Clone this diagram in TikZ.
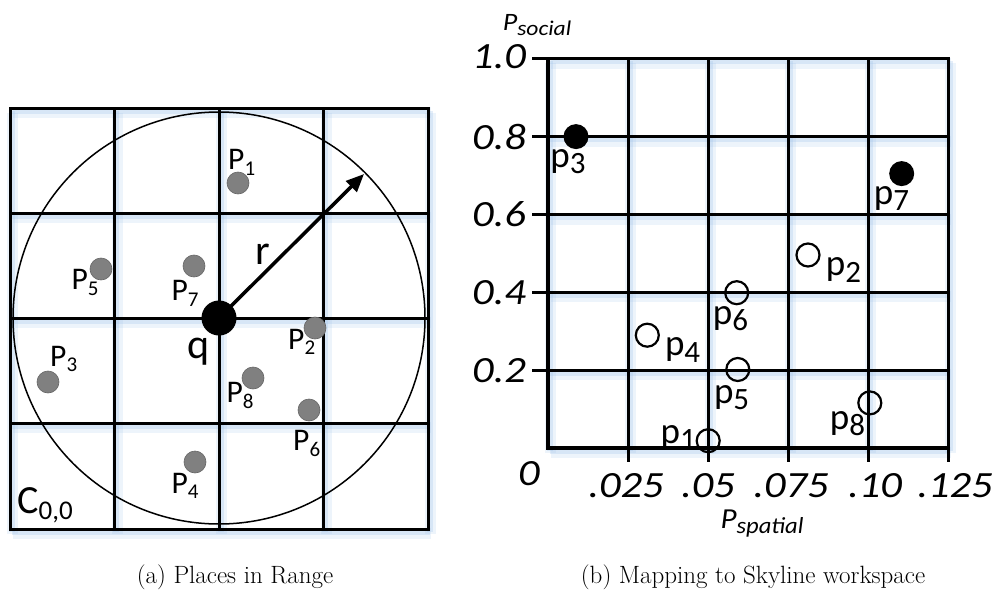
\documentclass[tikz,border=0pt]{standalone}
\usepackage{fontspec}
\newfontfamily\carl{Carlito}
\usetikzlibrary{arrows.meta}
\newcommand\Psb[1]{P\raisebox{-5.5pt}{\fontsize{21}{21}\selectfont #1}}
\newcommand\psb[1]{p\raisebox{-6.5pt}{\fontsize{31}{31}\selectfont #1}}
\newcommand\axsb[4]{\scalebox{#4}[1]{#1\raisebox{-5pt}{\fontsize{#3}{#3}\selectfont #2}}}
\newcommand\nm[1]{\scalebox{1.15}[1]{#1}}
\definecolor{glowc}{rgb}{0.62,0.76,0.91}
\definecolor{dotgray}{gray}{0.5}
\begin{document}
\begin{tikzpicture}[x=1pt,y=-1pt,
  gl/.style={line width=3pt},
  axl/.style={line width=4.5pt, line join=miter},
  glwa/.style={line width=11pt, glowc, opacity=0.18},
  glwb/.style={line width=6pt, glowc, opacity=0.28},
  Plab/.style={inner sep=0pt, font=\carl\fontsize{31.5}{34}\selectfont},
  plab/.style={inner sep=0pt, font=\carl\fontsize{37}{40}\selectfont},
  num/.style={inner sep=0pt, font=\carl\itshape\fontsize{37}{40}\selectfont},
  axlab/.style={inner sep=0pt, font=\carl\itshape},
  gdot/.style={circle, fill=dotgray, draw=black!60, line width=0.6pt, minimum size=22pt, inner sep=0pt},
  hdot/.style={circle, draw=black, line width=2.2pt, minimum size=23pt, inner sep=0pt},
  fdot/.style={circle, fill=black, minimum size=25pt, inner sep=0pt},
  capt/.style={inner sep=0pt, font=\fontsize{25}{29}\selectfont}
 ]
\useasboundingbox (0,0) rectangle (999,602);
% ---------- glow ----------
\begin{scope}[shift={(2.5,4.5)}]
  \foreach \x in {10,114.5,219,323.5,428} \draw[glwa] (\x,108) -- (\x,529);
  \foreach \y in {108,213,318,423,529} \draw[glwa] (10,\y) -- (428,\y);
  \foreach \x in {548,628,708,788,868,948} \draw[glwa] (\x,59) -- (\x,448);
  \foreach \y in {59,136.8,214.6,292.4,370.2,448} \draw[glwa] (548,\y) -- (948,\y);
\end{scope}
\begin{scope}[shift={(1.5,2.5)}]
  \foreach \x in {10,114.5,219,323.5,428} \draw[glwb] (\x,108) -- (\x,529);
  \foreach \y in {108,213,318,423,529} \draw[glwb] (10,\y) -- (428,\y);
  \foreach \x in {548,628,708,788,868,948} \draw[glwb] (\x,59) -- (\x,448);
  \foreach \y in {59,136.8,214.6,292.4,370.2,448} \draw[glwb] (548,\y) -- (948,\y);
\end{scope}
% ---------- left grid ----------
\foreach \x in {114.5,219,323.5} \draw[gl] (\x,108) -- (\x,529);
\foreach \y in {213,318,423} \draw[gl] (10,\y) -- (428,\y);
\draw[gl] (10,108) rectangle (428,529);
\draw[line width=1.5pt] (219,318) circle[radius=206pt];
\node[circle, fill=black, minimum size=35pt, inner sep=0pt] (q) at (219,318) {};
\coordinate (rtip) at (364,174);
\draw[line width=3.5pt, -{Triangle[length=18pt,width=15pt]}] (q.center) -- (rtip);
% gray dots
\node[gdot] (d1) at (238,183) {};
\node[gdot] (d5) at (101,269) {};
\node[gdot] (d7) at (194,266) {};
\node[gdot] (d2) at (315,328) {};
\node[gdot] (d3) at (48,382) {};
\node[gdot] (d8) at (253,378) {};
\node[gdot] (d6) at (309,410) {};
\node[gdot] (d4) at (195,462) {};
% labels
\node[Plab] (l1) at (241.7,162.3) {\Psb{1}};
\node[Plab] (l5) at (85,282.3) {\Psb{5}};
\node[Plab] (l7) at (185,293.3) {\Psb{7}};
\node[Plab] (l2) at (301.7,341.7) {\Psb{2}};
\node[Plab] (l3) at (63.7,359) {\Psb{3}};
\node[Plab] (l8) at (240,395.7) {\Psb{8}};
\node[Plab] (l6) at (306.7,443.3) {\Psb{6}};
\node[Plab] (l4) at (185,485.7) {\Psb{4}};
\node[inner sep=0pt, font=\carl\fontsize{42}{46}\selectfont] (lq) at (199,351.7) {q};
\node[inner sep=0pt, font=\carl\fontsize{42}{46}\selectfont] (lr) at (262.5,254) {r};
\node[inner sep=0pt, font=\carl\fontsize{40}{44}\selectfont] (lc) at (45,505) {C\raisebox{-6pt}{\fontsize{27}{27}\selectfont 0,0}};
% ---------- right grid ----------
\foreach \x in {628,708,788,868} \draw[gl] (\x,59) -- (\x,448);
\foreach \y in {136.8,214.6,292.4,370.2} \draw[gl] (548,\y) -- (948,\y);
\draw[gl, line cap=rect] (548,59) -- (948,59) -- (948,448);
\draw[axl, line cap=rect] (548,59) -- (548,448) -- (948,448);
\foreach \y in {59,136.8,214.6,292.4,370.2} \draw[gl] (532,\y) -- (548,\y);
\foreach \x in {628,708,788,868,948} \draw[gl] (\x,436) -- (\x,462);
% points
\node[fdot] (q3) at (576,136.6) {};
\node[fdot] (q7) at (901.7,173.6) {};
\node[hdot] (q2) at (808,255) {};
\node[hdot] (q6) at (736.7,292.7) {};
\node[hdot] (q4) at (647.3,335.2) {};
\node[hdot] (q5) at (737.8,369.5) {};
\node[hdot] (q8) at (869.8,402.9) {};
\node[hdot] (q1) at (708.2,440.7) {};
\node[plab] (m3) at (568,161.6) {\psb{3}};
\node[plab] (m7) at (891.4,198.4) {\psb{7}};
\node[plab] (m2) at (843.5,270) {\psb{2}};
\node[plab] (m6) at (730.5,318.5) {\psb{6}};
\node[plab] (m4) at (682.6,350) {\psb{4}};
\node[plab] (m5) at (731.6,397.7) {\psb{5}};
\node[plab] (m8) at (847.4,423.5) {\psb{8}};
\node[plab] (m1) at (678.3,437.3) {\psb{1}};
% axis numbers
\node[num] (y10) at (499,57) {\nm{1.0}};
\node[num] (y08) at (499,136.8) {\nm{0.8}};
\node[num] (y06) at (499,214.6) {\nm{0.6}};
\node[num] (y04) at (499,292.4) {\nm{0.4}};
\node[num] (y02) at (499,370.2) {\nm{0.2}};
\node[num] (y00) at (529,474) {\nm{0}};
\node[num] (x1) at (626,486) {\nm{.025}};
\node[num] (x2) at (708,486) {\nm{.05}};
\node[num] (x3) at (791,486) {\nm{.075}};
\node[num] (x4) at (875,486) {\nm{.10}};
\node[num] (x5) at (955,486) {\nm{.125}};
\node[axlab, font=\carl\itshape\fontsize{25}{28}\selectfont] (psoc) at (537,25) {\axsb{P}{social}{21}{1.12}};
\node[axlab, font=\carl\itshape\fontsize{29}{32}\selectfont] (pspa) at (762,524) {\axsb{P}{spatial}{23}{1.07}};
% captions
\node[capt] (ca) at (235,577) {(a) Places in Range};
\node[capt] (cb) at (753,577) {(b) Mapping to Skyline workspace};
\end{tikzpicture}
\end{document}
